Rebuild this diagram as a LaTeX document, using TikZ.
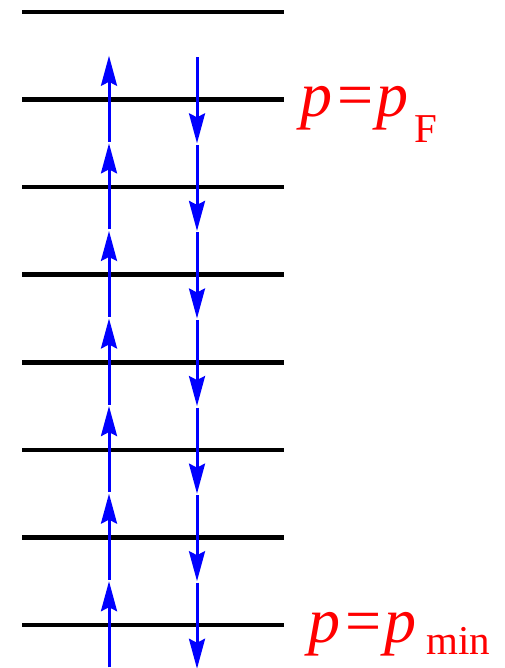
\documentclass[tikz,border=0pt]{standalone}
\usepackage{fontspec}
\setmainfont{Liberation Serif}
\usetikzlibrary{arrows.meta}
\tikzset{
  level/.style={line width=4.5pt, black},
  flow/.style={line width=3pt, blue, -{Stealth[length=30pt,width=16pt,inset=4pt]}},
  lbl/.style={red, anchor=base west, inner sep=0pt}
}
\begin{document}
\begin{tikzpicture}[x=1pt,y=-1pt]
\useasboundingbox (0,0) rectangle (505,668);
% levels
\foreach \k in {0,...,7}{
  \coordinate (L\k a) at (22,{12+87.57*\k});
  \coordinate (L\k b) at (284,{12+87.57*\k});
  \draw[level] (L\k a) -- (L\k b);
}
% midpoints for arrows
\foreach \k in {0,...,7}{
  \coordinate (U\k) at (109,{12+87.57*(\k+0.5)});
  \coordinate (D\k) at (197,{12+87.57*(\k+0.5)});
}
\foreach \k [evaluate=\k as \n using int(\k+1)] in {0,...,6}{
  \draw[flow, shorten <=1.5pt] (U\n) -- (U\k);
  \draw[flow, shorten <=1.5pt] (D\k) -- (D\n);
}
\node[lbl] (pF) at (300,117) {\fontsize{64}{64}\selectfont\textit{p}\kern5pt=\kern3pt\textit{p}\kern6pt\raisebox{-26pt}{\fontsize{41}{41}\selectfont F}};
\node[lbl] (pmin) at (308,642) {\fontsize{64}{64}\selectfont\textit{p}\kern5pt=\kern3pt\textit{p}\kern10pt\raisebox{-12pt}{\fontsize{41}{41}\selectfont min}};
\end{tikzpicture}
\end{document}
